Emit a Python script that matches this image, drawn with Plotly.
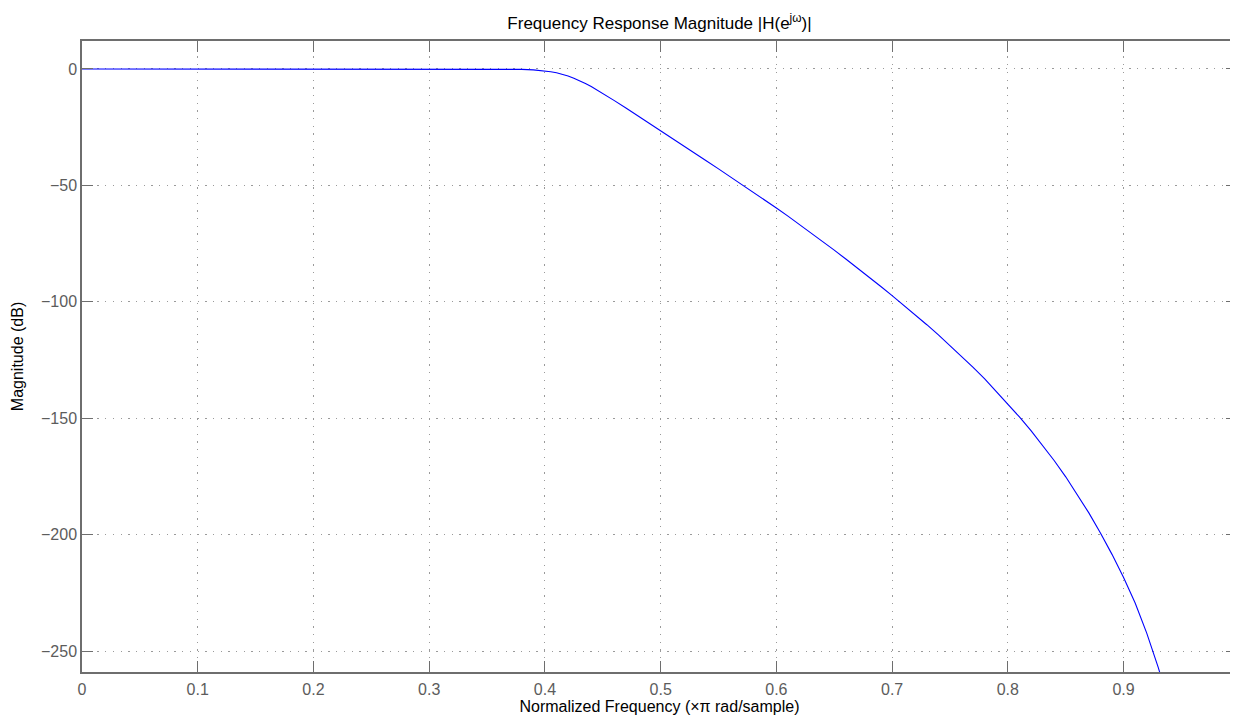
import plotly.graph_objects as go

# Normalized frequency (x pi rad/sample) and magnitude (dB)
freq = [0.00, 0.05, 0.10, 0.15, 0.20, 0.25, 0.30, 0.33, 0.35, 0.36, 0.37, 0.38, 0.39,
        0.395, 0.400, 0.405, 0.410, 0.415, 0.420, 0.425, 0.430, 0.435, 0.440, 0.445, 0.45,
        0.46, 0.47, 0.48, 0.49, 0.50, 0.51, 0.52, 0.53, 0.54, 0.55, 0.56, 0.57,
        0.58, 0.59, 0.60, 0.61, 0.62, 0.63, 0.64, 0.65, 0.66, 0.67, 0.68, 0.69,
        0.70, 0.71, 0.72, 0.73, 0.74, 0.75, 0.76, 0.77, 0.78, 0.79, 0.80, 0.81,
        0.82, 0.83, 0.84, 0.85, 0.86, 0.87, 0.88, 0.89, 0.90, 0.91, 0.92, 0.93, 0.94]
mag_db = [0.0, 0.0, 0.0, 0.0, 0.0, 0.0, 0.0, -0.004, -0.015, -0.035, -0.08, -0.18, -0.39,
          -0.57, -0.82, -1.17, -1.64, -2.25, -3.01, -3.95, -5.03, -6.25, -7.57, -9.00, -10.47,
          -13.6, -16.8, -20.0, -23.2, -26.5, -29.8, -33.1, -36.3, -39.6, -42.9, -46.2, -49.5,
          -52.9, -56.3, -59.7, -63.2, -66.8, -70.4, -74.1, -77.8, -81.6, -85.4, -89.3, -93.3,
          -97.3, -101.4, -105.6, -109.8, -114.2, -118.7, -123.3, -128.1, -133.1, -138.4, -143.8, -149.4,
          -155.3, -161.5, -168.1, -175.1, -182.6, -190.6, -199.2, -208.4, -218.3, -229.3, -242.2, -257.0, -274.0]

x_ticks = [0, 0.1, 0.2, 0.3, 0.4, 0.5, 0.6, 0.7, 0.8, 0.9]
x_tick_text = ["0", "0.1", "0.2", "0.3", "0.4", "0.5", "0.6", "0.7", "0.8", "0.9"]
y_ticks = [0, -50, -100, -150, -200, -250]
y_tick_text = ["0", "\u221250", "\u2212100", "\u2212150", "\u2212200", "\u2212250"]

FONT = "Liberation Sans, Arial, Helvetica, sans-serif"
AX = "#6e6e6e"
LBL = "#5c5c5c"
GRID = "#9a9a9a"

fig = go.Figure()
fig.add_trace(go.Scatter(x=freq, y=mag_db, mode="lines",
                         line=dict(color="#0000ff", width=1.1),
                         hoverinfo="x+y", showlegend=False))

axis_common = dict(showline=True, linecolor=AX, linewidth=1.5, mirror="ticks",
                   ticks="inside", ticklen=11, tickwidth=1, tickcolor=AX,
                   showgrid=True, gridcolor=GRID, gridwidth=1, griddash="1.3px,6.4px",
                   zeroline=False, tickfont=dict(family=FONT, size=16, color=LBL),
                   automargin=False)

fig.update_xaxes(range=[0, 0.998], tickvals=x_ticks, ticktext=x_tick_text,
                 ticklabelstandoff=2,
                 title=dict(text="Normalized Frequency (\u00d7\u03c0 rad/sample)",
                            font=dict(family=FONT, size=16, color="#000000"), standoff=10),
                 **axis_common)
fig.update_yaxes(range=[-258.9, 12.0], tickvals=y_ticks, ticktext=y_tick_text,
                 title=dict(text="Magnitude (dB)",
                            font=dict(family=FONT, size=16, color="#000000"), standoff=13),
                 **axis_common)

# the page body adds an 8px offset; the figure is sized so it fills the 1238x715 window
fig.update_layout(
    width=1230, height=707,
    margin=dict(l=74, r=1, t=33, b=43, pad=0),
    paper_bgcolor="#ffffff", plot_bgcolor="#ffffff",
    title=dict(text="Frequency Response Magnitude |H(e<sup>j\u03c9</sup>)|",
               font=dict(family=FONT, size=17, color="#000000"),
               x=0.5, xref="paper", xanchor="center", y=0.979, yanchor="middle"),
)

fig.write_html("out.html")
